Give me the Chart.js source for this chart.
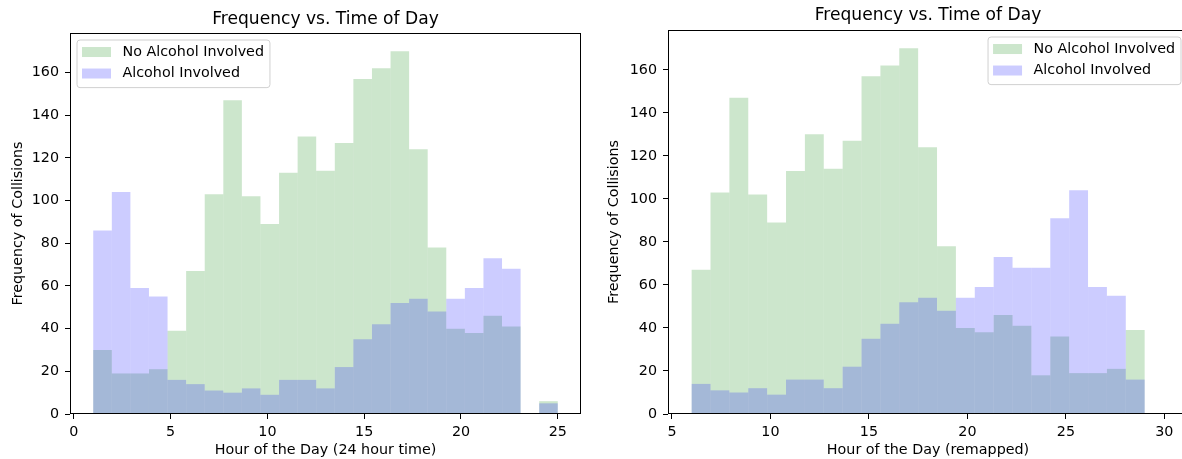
<!DOCTYPE html>
<html>
<head>
<meta charset="utf-8">
<script src="https://cdn.jsdelivr.net/npm/chart.js@4.4.0/dist/chart.umd.min.js"></script>
<style>
  html, body { margin: 0; padding: 0; background: #fff; overflow: hidden; width: 1182px; height: 459px; }
  canvas { position: absolute; top: 0; }
  #left { left: 0; }
  #right { left: 600px; }
</style>
</head>
<body>
<canvas id="left" width="600" height="459"></canvas>
<canvas id="right" width="600" height="459"></canvas>
<script>
// histogram counts, one value per bin
const leftBinRange = [1, 25];
const rightBinRange = [6, 29];
const leftNoAlcohol = [30, 19, 19, 21, 39, 67, 103, 147, 102, 89, 113, 130, 114, 127, 157, 162, 170, 124, 78, 40, 38, 46, 41, 0, 6];
const leftAlcohol = [86, 104, 59, 55, 16, 14, 11, 10, 12, 9, 16, 16, 12, 22, 35, 42, 52, 54, 48, 54, 59, 73, 68, 0, 5];
const rightNoAlcohol = [67, 103, 147, 102, 89, 113, 130, 114, 127, 157, 162, 170, 124, 78, 40, 38, 46, 41, 18, 36, 19, 19, 21, 39];
const rightAlcohol = [14, 11, 10, 12, 9, 16, 16, 12, 22, 35, 42, 52, 54, 48, 54, 59, 73, 68, 68, 91, 104, 59, 55, 16];

const leftXTicks = [0, 5, 10, 15, 20, 25];
const rightXTicks = [5, 10, 15, 20, 25, 30];
const yTicks = [0, 20, 40, 60, 80, 100, 120, 140, 160];

const seriesLabels = ['No Alcohol Involved', 'Alcohol Involved'];
const chartTitle = 'Frequency vs. Time of Day';
const yTitle = 'Frequency of Collisions';
const leftXTitle = 'Hour of the Day (24 hour time)';
const rightXTitle = 'Hour of the Day (remapped)';

const FONT = '"DejaVu Sans", sans-serif';
const FS = 14.3;

function binCenters(range, n) {
    const w = (range[1] - range[0]) / n;
    const out = [];
    for (let i = 0; i < n; i++) out.push(range[0] + w * (i + 0.5));
    return out;
}

// matplotlib style frame round the axes
const frame = {
    id: 'frame',
    afterDatasetsDraw(chart) {
        const { ctx, chartArea: a } = chart;
        ctx.save();
        ctx.strokeStyle = '#000';
        ctx.lineWidth = 1;
        ctx.strokeRect(Math.round(a.left) + 0.5, Math.round(a.top) + 0.5,
            Math.round(a.right - a.left) - 1, Math.round(a.bottom - a.top) - 1);
        ctx.restore();
    }
};

const legendBox = {
    id: 'legendBox',
    afterDraw(chart, args, opts) {
        const { ctx, chartArea } = chart;
        ctx.save();
        ctx.font = FS + 'px ' + FONT;
        const sets = chart.data.datasets;
        const textW = Math.max(...sets.map(d => ctx.measureText(d.label).width));
        const w = 5 + 29 + 11.5 + textW + 6;
        const h = 47.6;
        const x = opts.side === 'right' ? chartArea.right - 7 - w : chartArea.left + 7;
        const y = chartArea.top + 7;
        const r = 3;
        ctx.beginPath();
        ctx.moveTo(x + r, y);
        ctx.arcTo(x + w, y, x + w, y + h, r);
        ctx.arcTo(x + w, y + h, x, y + h, r);
        ctx.arcTo(x, y + h, x, y, r);
        ctx.arcTo(x, y, x + w, y, r);
        ctx.closePath();
        ctx.fillStyle = 'rgba(255,255,255,0.8)';
        ctx.fill();
        ctx.strokeStyle = '#d0d0d0';
        ctx.lineWidth = 1;
        ctx.stroke();
        sets.forEach((d, i) => {
            const py = y + 7 + i * 21.5;
            ctx.fillStyle = d.backgroundColor;
            ctx.fillRect(x + 5, py, 29, 10);
            ctx.fillStyle = '#000';
            ctx.textBaseline = 'middle';
            ctx.textAlign = 'left';
            ctx.fillText(d.label, x + 45.5, py + 5);
        });
        ctx.restore();
    }
};

function makeHist(id, cfg) {
    const xs = binCenters(cfg.range, cfg.noAlcohol.length);
    const tickFont = { family: FONT, size: FS };
    return new Chart(document.getElementById(id), {
        type: 'bar',
        data: {
            datasets: [
                {
                    label: seriesLabels[0],
                    data: xs.map((x, i) => ({ x: x, y: cfg.noAlcohol[i] })),
                    backgroundColor: 'rgba(0,128,0,0.2)',
                    order: 1
                },
                {
                    label: seriesLabels[1],
                    data: xs.map((x, i) => ({ x: x, y: cfg.alcohol[i] })),
                    backgroundColor: 'rgba(0,0,255,0.2)',
                    order: 0
                }
            ]
        },
        options: {
            responsive: false,
            animation: false,
            grouped: false,
            barPercentage: 1,
            categoryPercentage: 1,
            inflateAmount: 0,
            borderWidth: 0,
            layout: { padding: { left: 0, right: cfg.padRight, top: 0, bottom: 0 } },
            plugins: {
                legend: { display: false },
                tooltip: { enabled: false },
                legendBox: { side: cfg.legendSide },
                title: {
                    display: true,
                    fullSize: false,
                    text: chartTitle,
                    color: '#000',
                    font: { family: FONT, size: 17.1, weight: 'normal' },
                    padding: { top: cfg.titleTop, bottom: cfg.titleBottom }
                }
            },
            scales: {
                x: {
                    type: 'linear',
                    offset: false,
                    min: cfg.xMin,
                    max: cfg.xMax,
                    afterBuildTicks: s => { s.ticks = cfg.xTicks.map(v => ({ value: v })); },
                    afterFit: s => { s.height = 45; },
                    grid: { offset: false, drawOnChartArea: false, drawTicks: true, tickLength: 5, color: '#000' },
                    border: { display: false },
                    ticks: { color: '#000', font: tickFont, padding: 4.5, maxRotation: 0 },
                    title: {
                        display: true, text: cfg.xTitle, color: '#000', font: tickFont,
                        padding: { top: 0, bottom: 0.5 }
                    }
                },
                y: {
                    min: 0,
                    max: 178.5,
                    afterBuildTicks: s => { s.ticks = yTicks.map(v => ({ value: v })); },
                    afterFit: s => { s.width = cfg.yWidth; },
                    grid: { drawOnChartArea: false, drawTicks: true, tickLength: 5, color: '#000' },
                    border: { display: false },
                    ticks: { color: '#000', font: tickFont, padding: 6 },
                    title: {
                        display: true, text: yTitle, color: '#000', font: tickFont,
                        padding: { top: cfg.yTitlePad, bottom: 0 }
                    }
                }
            }
        },
        plugins: [frame, legendBox]
    });
}

makeHist('left', {
    range: leftBinRange, noAlcohol: leftNoAlcohol, alcohol: leftAlcohol,
    xMin: -0.2, xMax: 26.2, xTicks: leftXTicks, xTitle: leftXTitle,
    yWidth: 70, padRight: 19, titleTop: 9.0, titleBottom: 3.5, yTitlePad: 9.5,
    legendSide: 'left'
});

makeHist('right', {
    range: rightBinRange, noAlcohol: rightNoAlcohol, alcohol: rightAlcohol,
    xMin: 4.8, xMax: 31.2, xTicks: rightXTicks, xTitle: rightXTitle,
    yWidth: 68, padRight: 12, titleTop: 5.2, titleBottom: 4.3, yTitlePad: 5.5,
    legendSide: 'right'
});
</script>
</body>
</html>
